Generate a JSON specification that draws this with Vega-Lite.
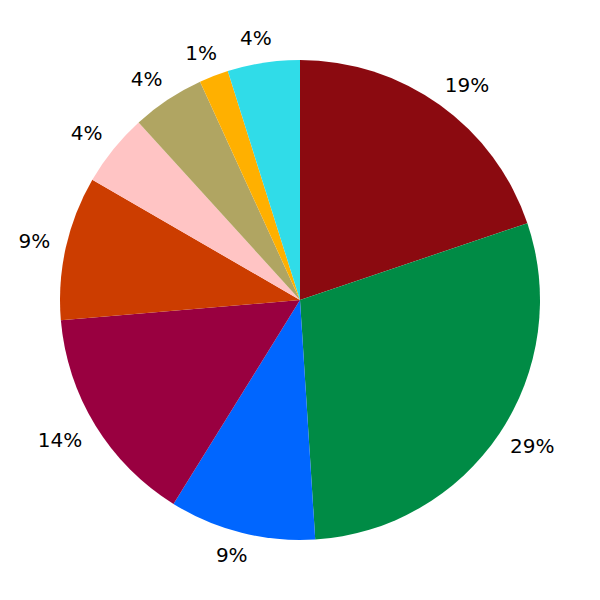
{
  "$schema": "https://vega.github.io/schema/vega-lite/v6.json",
  "width": 600,
  "height": 600,
  "autosize": {"type": "fit", "contains": "padding"},
  "padding": 0,
  "background": "white",
  "view": {"stroke": null},
  "data": {"values": [
    {"idx": 1, "cat": "A", "value": 19.8, "label": "19%"},
    {"idx": 2, "cat": "B", "value": 29.15, "label": "29%"},
    {"idx": 3, "cat": "C", "value": 9.84, "label": "9%"},
    {"idx": 4, "cat": "D", "value": 14.8, "label": "14%"},
    {"idx": 5, "cat": "E", "value": 9.7, "label": "9%"},
    {"idx": 6, "cat": "F", "value": 4.9, "label": "4%"},
    {"idx": 7, "cat": "G", "value": 4.9, "label": "4%"},
    {"idx": 8, "cat": "H", "value": 1.97, "label": "1%"},
    {"idx": 9, "cat": "I", "value": 4.86, "label": "4%"}
  ]},
  "encoding": {
    "theta": {"field": "value", "type": "quantitative", "stack": true},
    "order": {"field": "idx", "type": "quantitative"},
    "color": {
      "field": "cat", "type": "nominal", "legend": null,
      "scale": {
        "domain": ["A","B","C","D","E","F","G","H","I"],
        "range": ["#8B0A10","#008B45","#0066FF","#990040","#CC3D00","#FFC4C4","#B0A562","#FFB000","#30DCE8"]
      }
    }
  },
  "layer": [
    {"mark": {"type": "arc", "outerRadius": 240}},
    {"mark": {"type": "text", "radius": 264, "dx": 13, "fontSize": 20, "font": "DejaVu Sans", "align": "center", "baseline": "middle"},
     "encoding": {"text": {"condition": {"test": "datum.idx <= 2", "field": "label"}, "value": ""}, "color": {"value": "black"}}},
    {"mark": {"type": "text", "radius": 264, "dx": -4, "fontSize": 20, "font": "DejaVu Sans", "align": "center", "baseline": "middle"},
     "encoding": {"text": {"condition": {"test": "datum.idx == 3 || datum.idx >= 8", "field": "label"}, "value": ""}, "color": {"value": "black"}}},
    {"mark": {"type": "text", "radius": 264, "dx": -15, "dy": 3, "fontSize": 20, "font": "DejaVu Sans", "align": "center", "baseline": "middle"},
     "encoding": {"text": {"condition": {"test": "datum.idx == 4", "field": "label"}, "value": ""}, "color": {"value": "black"}}},
    {"mark": {"type": "text", "radius": 264, "dx": -8, "fontSize": 20, "font": "DejaVu Sans", "align": "center", "baseline": "middle"},
     "encoding": {"text": {"condition": {"test": "datum.idx >= 5 && datum.idx <= 7", "field": "label"}, "value": ""}, "color": {"value": "black"}}}
  ]
}
